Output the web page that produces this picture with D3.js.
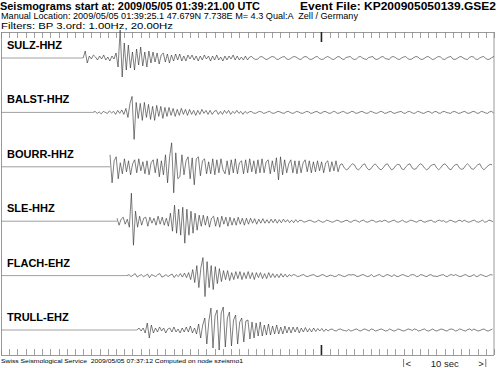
<!DOCTYPE html>
<html>
<head>
<meta charset="utf-8">
<script src="https://cdn.jsdelivr.net/npm/d3@7"></script>
<style>
  body { margin: 0; background: #fff; }
  text { font-family: "Liberation Sans", Arial, Helvetica, sans-serif; white-space: pre; }
</style>
</head>
<body>
<script>
// seismogram sheet, 60 s window from 01:39:21.00 UTC

const width = 497;
const height = 368;

const stations = ["SULZ-HHZ", "BALST-HHZ", "BOURR-HHZ", "SLE-HHZ", "FLACH-EHZ", "TRULL-EHZ"];
// first sample time (s after 01:39:21.00) for every trace
const startTimes = [10.0, 11.2, 13.27, 14.12, 15.33, 16.55];
const dt = 0.25; // seconds between samples

// amplitudes (up = positive)
const sulz = [0, 7, -5, 2, -1, 3, 1, -2, 2, -1, 3, -2, 1, -3, 2, -1,
  5, -9, 28, -19, 15, -12,
  13, -10, 6, -12, 9, -7, 11, -8, 6, -9, 7,
  -5, 6, -4, 5, -6, 3, 5, -4, 4, -5, 3, -3, 4, -2, 4,
  -3, 2, -3, 3, -1, 3, -2, 2, -3, 2, -2, 3, -1, 2, -3, 2, -2, 3, -2, 1,
  -3, 2, -2, 2, -1, 3, -2, 2, -2, 1, -2, 2, -2,
  1, 1.5, -0.5, -1.5, -1, 1, 1.5, 0, -1.5, -1,
  0.5, 1.5, 1, -1, -1.5, 0, 1, 1.5, -1, -1.5,
  -0.5, 1, 1.5, 0.5, -1, -1.5, 0.5, 1.5, 1, -1,
  -1.5, -0.5, 1, 1.5, -0.5, -1.5, -1, 0.5, 1.5, 0.5,
  -1, -1.5, 0, 1.5, 1, -1, -1.5, 0.5, 1, 1.5,
  -0.5, -1.5, -1, 1, 1.5, 0, -1, -1.5, 0.5, 1,
  1.5, -1, -1.5, -0.5, 1, 1.5, -0.5, -1, -1.5, 1,
  1.5, 0.5, -1, -1.5, 0, 1, 1.5, -0.5, -1.5, -1,
  0.5, 1.5, 1, -1, -1.5, -0.5, 1, 1.5, 0, -1.5,
  -1, 0.5, 1.5, 1, -1, -1.5, 0, 1, 1.5, -1,
  -1.5, -0.5, 1, 1.5, 0, -1, -1.5, 0.5, 1.5, 1,
  -1, -1.5, 0, 1, 1.5, -0.5, -1.5, -1, 0.5, 1.5,
  1, -1];

const balst = [0, 1, -1, 0.5, -1.5, 1, 0, -1, 1.5, -0.5, 1, -2, 2, -1, 2.5, -2,
  4, -5, 9, 16, -27, 10, -6,
  9, -8, 10, -5, 8, -7, 6, -8, 7, -4, 6, -6, 5,
  -4, 5, -3, 4, -4, 3, -3, 4, -2, 3, -3, 3, -2,
  2, -3, 2, -2, 3, -1, 2, -2, 2, -2, 1, 2, -2, 1, -2, 2, -1, 2, -2, 1,
  -1, 2, -1, 1, -2, 1, -1,
  0.5, 1, -0.5, -1, 0, 1, 0.5, -1, -0.5, 0.5,
  1, -0.5, -1, 0, 1, 0.5, -0.5, -1, 0.5, 1,
  0, -1, -0.5, 1, 0.5, -0.5, -1, 0, 1, 0.5,
  -1, -0.5, 0.5, 1, -0.5, -1, 0.5, 1, 0, -1,
  -0.5, 1, 0.5, -1, -0.5, 0.5, 1, -0.5, -1, 0,
  1, 0.5, -1, -0.5, 0.5, 1, 0, -1, -0.5, 1,
  0.5, -0.5, -1, 0, 1, 0.5, -1, -0.5, 0.5, 1,
  -0.5, -1, 0, 0.5, 1, -0.5, -1, 0.5, 1, 0,
  -1, -0.5, 1, 0.5, -0.5, -1, 0, 1, 0.5, -1,
  0.5, 1, -0.5, -1, 0.5, 1, 0, -0.5, -1, 0.5,
  1, 0, -1, -0.5, 0.5, 1, -0.5, -1, 0, 1,
  0.5, -1, -0.5, 1, 0.5, -0.5, -1, 0.5, 1, -0.5,
  -1, 0.5];

const bourr = [12, -16, 6, 10, -12, 4,
  -7, 8, -5, 6, -8, 3, 7, -6, 8, -4, 5, -7, 6, -8, 4, 7, -6, 8,
  -10, 6, -8, 12, -16, 10, 24, -26, 14, -12,
  -10, 12, -8, 6, 10, -12, 9, -18, 8, 10, -9, 6, 8, -7, 5,
  -7, 8, -8, 7, -6, 8, -3, -7, 6, -8, 7, -6, 8, -7, 4, 6, -7, 7, -6, 8, -5, 6, -7,
  7, -6, 8, -6, 5, 7, -7, 6, -5, 9, -13, 10, -8, 7, -6, 3, 7, -6, 6, -7,
  6, -6, 4, 7, -5, 6, -6, 5, -5, 6, -4, 5, -6, 4, 6, -5, 5, -4, 6, -5,
  2, 3, -1, -3, -2, 1, 3, 2, -2, -3,
  -1, 2, 3, -1, -3, -2, 1, 3, 1, -2,
  -3, -1, 2, 3, 0, -3, -2, 1, 2.5, 2,
  -2, -3, 0, 2, 3, -1, -2.5, -2, 1, 3,
  2, -1, -3, -2, 1, 2, 2.5, -1, -3, -1,
  2, 3, 1, -2, -3, 0, 2, 2.5, -1, -2.5,
  -2, 1, 3, 1, -2, -2.5, 0, 2, 3, -1,
  -3, -1, 1, 2.5, 2, -2, -3, 0, 2, 1];

const sle = [3, -4, 2, 4, -3, 2,
  -6, 28, -24, 10,
  -6, 5, -4, 3, 4, -5, 4, -2, 3, -4, 5, -3, 4, -4, 3, -5,
  8, -10, 16, -12, 12, -14, 14, -22, 12, -14, 10, -12, 8, -9, 6,
  -5, 6, -4, 5, -6, 3, 5, -5, 4, -6, 5, -3, 4, -5, 4, -4, 3, -4, 4, -3, 3, -4, 3, -3,
  3, -2, 2.5, -3, 2, -2, 2.5, -2, 1.5, -2, 2, -1.5, 2, -2, 1.5, -1.5, 2, -1, 1.5, -1.5,
  1, -1.5, 1.5, -1,
  1, 0.5, -1, -0.5, 0.5, 1, 0, -1, -0.5, 1,
  0, -1, -0.5, 1, 0.5, -0.5, -1, 0, 1, 0.5,
  -1, -0.5, 0.5, 1, -0.5, -1, 0.5, 1, 0, -1,
  0.5, 1, -0.5, -1, 0, 1, 0.5, -1, -0.5, 0.5,
  -0.5, 1, 0.5, -1, -0.5, 0.5, 1, -0.5, -1, 0,
  1, -0.5, -1, 0, 1, 0.5, -0.5, -1, 0.5, 1,
  -0.5, -1, 0, 0.5, 1, -0.5, -1, 0.5, 1, 0,
  0.5, -1, -0.5, 1, 0.5, -0.5, -1, 0.5, 1, -0.5,
  1, 0, -1, -0.5, 0.5, 1, -0.5, -1, 0, 1,
  -1, -0.5, 1, 0.5, -0.5, -1, 0, 1];

const flach = [0, 1, -1, 0.5, 2, -1.5, 0, 1, -1, 0, 1.5, -2, 1, 0, -1, 1, 2, -1.5, -0.5, 1,
  -1, 0.5, 1.5, -2, 1, -1, 2, -1.5, 2.5, -2, 3,
  -4, 6, -7, 10, -12, 8, 18, -21, 14, -12, 10, -14, 9, -8, 7,
  -6, 5, -4, 5, -5, 3, -4, 4, -3, 4, -4, 3, -3, 4,
  -3, 3, -4, 3, -2, 3, -3, 2, -3, 3, -2, 2, -2, 1.5, -2, 2, -1.5, 1.5, -1.5, 1,
  -0.5, 1, 0.5, -1, -0.5, 0.5, 1, -0.5, -1, 0,
  0.5, 1, -0.5, -1, 0, 1, 0.5, -1, -0.5, 0.5,
  0, -1, -0.5, 1, 0.5, -0.5, -1, 0, 1, 0.5,
  1, 0.5, -1, -0.5, 0.5, 1, 0, -1, -0.5, 1,
  -1, -0.5, 0.5, 1, -0.5, -1, 0.5, 1, 0, -1,
  1, -0.5, -1, 0, 1, 0.5, -0.5, -1, 0.5, 1,
  0.5, -1, -0.5, 1, 0.5, -0.5, -1, 0.5, 1, -0.5,
  -0.5, -1, 0, 0.5, 1, -0.5, -1, 0.5, 1, 0,
  1, 0, -1, -0.5, 0.5, 1, -0.5, -1, 0, 1,
  -1, -0.5, 1, 0.5, -0.5, -1, 0, 1, 0.5, -1,
  0.5, 1];

const trull = [0, 2, -1, 2, -3,
  7, -8, 5,
  -3, 2, -2, 3, -1, 2, -3, 1, 2, -2, 3, -2, 1, -3, 2, -2, 3, -2, 4, -3, 2, -4,
  6, -8, 5, 12, -14, 9,
  22, -18, 14, 20, -20, 17, 23, -17, 12, 18, -16, 10, 15, -14, 8, 12, -12, 9, 10, -9,
  8, -8, 7, -6, 8, -6, 5, -5, 6, -5, 4, -4, 5, -4, 3, -4, 4, -3, 3, -3, 3, -2, 3,
  -3, 2, -2, 2.5, -2, 1.5, -2, 2, -1.5, 1.5, -1, 1.5, -1.5, 1, -1,
  0.5, 1, -0.5, -1, 0.5, 1, 0, -0.5, -1, 0.5,
  -1, -0.5, 0.5, 1, -0.5, -1, 0.5, 1, 0, -1,
  1, 0.5, -1, -0.5, 0.5, 1, 0, -1, -0.5, 1,
  0, -1, -0.5, 1, 0.5, -0.5, -1, 0, 1, 0.5,
  -0.5, 1, 0.5, -1, -0.5, 0.5, 1, -0.5, -1, 0,
  1, -0.5, -1, 0, 1, 0.5, -0.5, -1, 0.5, 1,
  0.5, -1, -0.5, 1, 0.5, -0.5, -1, 0.5, 1, -0.5,
  1, 0, -1, -0.5, 0.5, 1, -0.5, -1, 0, 1,
  -1, 0.5];

const traces = [sulz, balst, bourr, sle, flach, trull];

const titleText = "Seismograms start at: 2009/05/05 01:39:21.00 UTC";
const eventText = "Event File: KP200905050139.GSE2";
const locationText = "Manual Location: 2009/05/05 01:39:25.1 47.679N 7.738E M= 4.3 Qual:A  Zell / Germany";
const filterText = "Filters: BP 3.ord: 1.00Hz, 20.00Hz";
const footerText = "Swiss Seismological Service  2009/05/05 07:37:12 Computed on node szeismo1";
const tickSeconds = d3.range(0, 61);
const minuteMark = 39; // 01:40:00
const scaleBar = [49, 59]; // 10 sec

const svg = d3.select("body").append("svg")
  .attr("width", width)
  .attr("height", height);

const frameTop = 32, frameBottom = 355;

const x = d3.scaleLinear().domain([0, 60]).range([1, 494]);
const yBase = d3.scalePoint().domain(stations).range([58, 330]);
const amp = d3.scaleLinear().domain([-30, 30]).range([30, -30]);

// header
svg.append("text").attr("x", 0).attr("y", 9.5)
  .attr("font-size", 11.5).attr("font-weight", "bold")
  .attr("textLength", 260).attr("lengthAdjust", "spacingAndGlyphs")
  .text(titleText);
svg.append("text").attr("x", 300).attr("y", 9.5)
  .attr("font-size", 11.5).attr("font-weight", "bold")
  .attr("textLength", 196).attr("lengthAdjust", "spacingAndGlyphs")
  .text(eventText);
svg.append("text").attr("x", 1).attr("y", 19)
  .attr("font-size", 8.5)
  .attr("textLength", 357).attr("lengthAdjust", "spacingAndGlyphs")
  .text(locationText);
svg.append("text").attr("x", 1).attr("y", 28.5)
  .attr("font-size", 8.5)
  .attr("textLength", 172).attr("lengthAdjust", "spacingAndGlyphs")
  .text(filterText);

// frame
svg.append("g").attr("stroke", "#999").attr("stroke-width", 1).attr("fill", "none")
  .call(g => {
    g.append("line").attr("x1", x(0)).attr("x2", x(60)).attr("y1", frameTop + 0.5).attr("y2", frameTop + 0.5);
    g.append("line").attr("x1", x(0)).attr("x2", x(60)).attr("y1", frameBottom + 0.5).attr("y2", frameBottom + 0.5);
    g.append("line").attr("x1", x(0) + 0.5).attr("x2", x(0) + 0.5).attr("y1", frameTop).attr("y2", frameBottom);
    g.append("line").attr("x1", x(60)).attr("x2", x(60)).attr("y1", frameTop).attr("y2", frameBottom);
  });

// time ticks, top and bottom
const ticks = svg.append("g").attr("stroke", "#888").attr("stroke-width", 0.8);
ticks.selectAll(".tt").data(tickSeconds).join("line")
  .attr("x1", d => Math.round(x(d)) + 0.5).attr("x2", d => Math.round(x(d)) + 0.5)
  .attr("y1", frameTop).attr("y2", frameTop + 6);
ticks.selectAll(".bt").data(tickSeconds).join("line")
  .attr("class", "bt")
  .attr("x1", d => Math.round(x(d)) + 0.5).attr("x2", d => Math.round(x(d)) + 0.5)
  .attr("y1", frameBottom - 6).attr("y2", frameBottom);

// minute marks
svg.append("g").attr("stroke", "#222").attr("stroke-width", 1.6)
  .selectAll("line").data([[frameTop, frameTop + 10], [frameBottom - 10, frameBottom]]).join("line")
  .attr("x1", x(minuteMark)).attr("x2", x(minuteMark))
  .attr("y1", d => d[0]).attr("y2", d => d[1]);

// traces
const line = d3.line()
  .x(d => x(d[0]))
  .y(d => amp(d[1]));

const tr = svg.append("g").selectAll("g").data(stations).join("g")
  .attr("transform", d => `translate(0,${yBase(d)})`);

tr.append("line")
  .attr("x1", x(0)).attr("x2", (d, i) => x(startTimes[i]))
  .attr("y1", 0).attr("y2", 0)
  .attr("stroke", "#888").attr("stroke-width", 0.8);

tr.append("path")
  .attr("fill", "none")
  .attr("stroke", "#2a2a2a")
  .attr("stroke-width", 0.6)
  .attr("d", (d, i) => line(traces[i]
    .map((v, k) => [startTimes[i] + k * dt, v])
    .filter(p => p[0] <= 60)));

tr.append("text")
  .attr("x", 7).attr("y", -9)
  .attr("font-size", 11).attr("font-weight", "bold")
  .text(d => d);

// 10 sec scale bar
const bar = svg.append("g").attr("font-size", 9.5).attr("fill", "#222");
bar.append("g").attr("stroke", "#555").attr("stroke-width", 0.8)
  .selectAll("line").data(scaleBar).join("line")
  .attr("x1", d => x(d)).attr("x2", d => x(d))
  .attr("y1", 359).attr("y2", 367);
bar.append("text").attr("x", x(scaleBar[0]) + 2).attr("y", 366.5).text("<");
bar.append("text").attr("x", x(scaleBar[1]) - 2).attr("y", 366.5).attr("text-anchor", "end").text(">");
bar.append("text").attr("x", (x(scaleBar[0]) + x(scaleBar[1])) / 2).attr("y", 366.5)
  .attr("text-anchor", "middle").text("10 sec");

// footer
svg.append("text").attr("x", 1).attr("y", 362.5)
  .attr("font-size", 5.5)
  .attr("textLength", 242).attr("lengthAdjust", "spacingAndGlyphs")
  .text(footerText);
</script>
</body>
</html>
